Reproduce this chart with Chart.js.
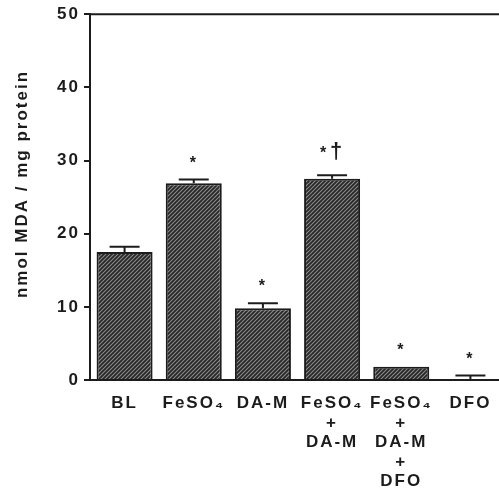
<!DOCTYPE html>
<html>
<head>
<meta charset="utf-8">
<script src="https://cdn.jsdelivr.net/npm/chart.js@4.4.1/dist/chart.umd.min.js"></script>
<style>
  html, body { margin: 0; padding: 0; background: #fff; overflow: hidden; }
  #wrap { width: 499px; height: 490px; overflow: hidden; }
</style>
</head>
<body>
<div id="wrap"><canvas id="mdaChart" width="506" height="490"></canvas></div>
<script>
// MDA (lipid peroxidation) per treatment group, mean + SEM
const groups = [['BL'], ['FeSO₄'], ['DA-M'], ['FeSO₄', '+', 'DA-M'], ['FeSO₄', '+', 'DA-M', '+', 'DFO'], ['DFO']];
const mdaMean = [17.5, 26.9, 9.8, 27.5, 1.8, 0.1];
const mdaSem = [0.7, 0.5, 0.7, 0.5, 0, 0.5];
const marks = ['', '*', '*', '*†', '*', '*'];
const yTicks = [0, 10, 20, 30, 40, 50];
const yTitle = 'nmol MDA / mg protein';

const INK = '#1c1c1c';
const FONT = '"Liberation Sans", Arial, sans-serif';

// Dark diagonal hatch used for every bar
function makeHatch() {
  const s = 4;
  const c = document.createElement('canvas');
  c.width = s; c.height = s;
  const g = c.getContext('2d');
  g.fillStyle = '#262626';
  g.fillRect(0, 0, s, s);
  g.strokeStyle = '#8c8c8c';
  g.lineWidth = 1.1;
  g.beginPath();
  g.moveTo(-1, s + 1); g.lineTo(s + 1, -1);
  g.moveTo(-1, 1); g.lineTo(1, -1);
  g.moveTo(s - 1, s + 1); g.lineTo(s + 1, s - 1);
  g.stroke();
  return g.createPattern(c, 'repeat');
}

// Wide-tracked lettering like the original figure
const spacing = {
  id: 'spacing',
  beforeUpdate(chart) { chart.ctx.letterSpacing = '2px'; },
  beforeDraw(chart) { chart.ctx.letterSpacing = '2px'; }
};

// Upper SEM whiskers, significance marks, top frame and y title
const extras = {
  id: 'extras',
  afterDatasetsDraw(chart) {
    const { ctx, chartArea, scales: { x, y } } = chart;
    ctx.save();
    ctx.strokeStyle = INK;
    ctx.fillStyle = INK;
    ctx.lineWidth = 2;

    // frame line along the top
    ctx.beginPath();
    ctx.moveTo(chartArea.left - 1, chartArea.top);
    ctx.lineTo(chartArea.right, chartArea.top);
    ctx.stroke();

    mdaMean.forEach((v, i) => {
      const px = x.getPixelForValue(i);
      const base = y.getPixelForValue(v);
      const top = y.getPixelForValue(v + mdaSem[i]);
      if (mdaSem[i]) {
        ctx.beginPath();
        ctx.moveTo(px, base); ctx.lineTo(px, top);
        ctx.moveTo(px - 15, top); ctx.lineTo(px + 15, top);
        ctx.stroke();
      }
      const m = marks[i];
      if (!m) return;
      ctx.textAlign = 'center';
      ctx.textBaseline = 'alphabetic';
      if (m.length === 1) {
        ctx.font = 'bold 16px ' + FONT;
        ctx.fillText(m, px, top - 12);
      } else {
        ctx.font = 'bold 16px ' + FONT;
        ctx.fillText(m[0], px - 8, top - 17);
        ctx.font = 'bold 22px ' + FONT;
        ctx.fillText(m[1], px + 5, top - 17);
      }
    });

    // rotated y axis title
    ctx.translate(22, 184);
    ctx.rotate(-Math.PI / 2);
    ctx.font = 'bold 17px ' + FONT;
    ctx.textAlign = 'center';
    ctx.textBaseline = 'middle';
    ctx.fillText(yTitle, 0, 0);
    ctx.restore();
  }
};

const canvas = document.getElementById('mdaChart');
new Chart(canvas, {
  type: 'bar',
  data: {
    labels: groups,
    datasets: [{
      data: mdaMean,
      backgroundColor: makeHatch(),
      borderColor: INK,
      borderWidth: 2,
      categoryPercentage: 1,
      barPercentage: 0.81
    }]
  },
  options: {
    responsive: false,
    animation: false,
    layout: { padding: { left: 0, top: 14, right: 1, bottom: 0 } },
    plugins: { legend: { display: false }, tooltip: { enabled: false } },
    scales: {
      x: {
        afterFit(s) { s.height = 110; },
        grid: { display: false, drawTicks: false },
        border: { color: INK, width: 2 },
        ticks: {
          color: INK,
          padding: 14,
          maxRotation: 0,
          autoSkip: false,
          font: { family: FONT, size: 17, weight: 'bold', lineHeight: 1.14 }
        }
      },
      y: {
        min: 0,
        max: 50,
        afterFit(s) { s.width = 90; },
        afterBuildTicks(s) { s.ticks = yTicks.map(v => ({ value: v })); },
        grid: { drawOnChartArea: false, tickLength: 6, color: INK, lineWidth: 2 },
        border: { color: INK, width: 2 },
        ticks: {
          color: INK,
          padding: 4,
          font: { family: FONT, size: 17, weight: 'bold' }
        }
      }
    }
  },
  plugins: [spacing, extras]
});
</script>
</body>
</html>
